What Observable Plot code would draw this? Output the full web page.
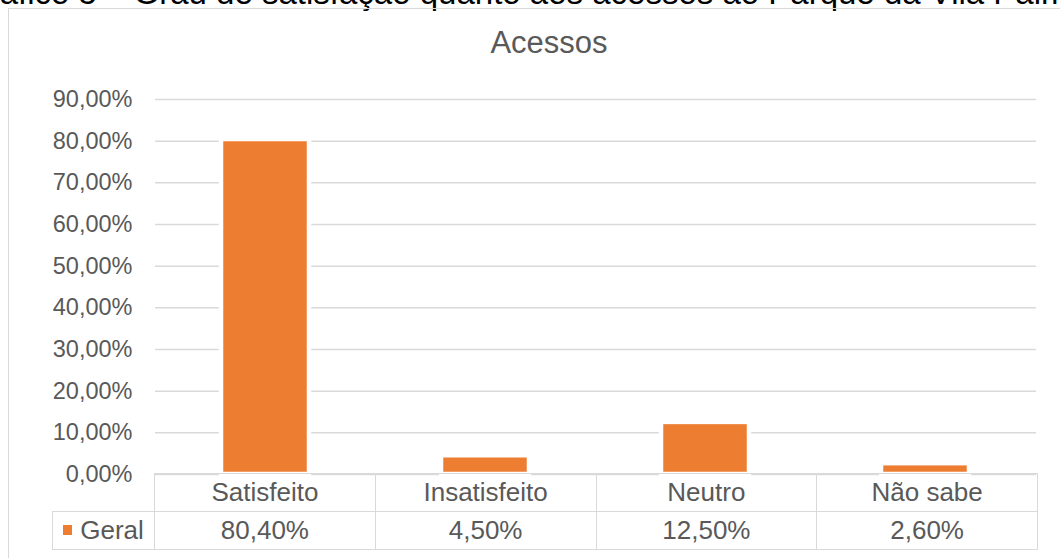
<!DOCTYPE html>
<html>
<head>
<meta charset="utf-8">
<script src="https://cdn.jsdelivr.net/npm/d3@7"></script>
<script src="https://cdn.jsdelivr.net/npm/@observablehq/plot@0.6"></script>
<style>
  html, body { margin: 0; padding: 0; background: #fff; }
  body { width: 1060px; height: 558px; position: relative; overflow: hidden; font-family: "Liberation Sans", Arial, sans-serif; }
  #caption { position: absolute; left: -37px; top: -24px; font-size: 33px; line-height: 33px; color: #000; white-space: nowrap; }
  #frame { position: absolute; left: 8px; top: 8px; width: 1200px; height: 700px; border: 1.5px solid #d9d9d9; box-sizing: border-box; }
  #title { position: absolute; left: 349px; width: 400px; top: 27px; text-align: center; font-size: 31px; line-height: 31px; color: #595959; }
  #chart { position: absolute; left: 0; top: 0; }
  #table { position: absolute; left: 52px; top: 473px; border-collapse: collapse; table-layout: fixed; width: 985px; font-size: 26px; color: #595959; }
  #table td { border: 1.5px solid #d9d9d9; height: 37px; padding: 0; text-align: center; vertical-align: middle; white-space: nowrap; }
  #table td.blank { border-top: none; border-left: none; }
  .swatch { display: inline-block; width: 9px; height: 10px; background: #ED7D31; margin-right: 8px; vertical-align: middle; position: relative; top: -2px; }
</style>
</head>
<body>
<div id="caption"></div>
<div id="frame"></div>
<div id="title"></div>
<div id="chart"></div>
<table id="table"></table>
<script>
const captionText = "Gráfico 5 – Grau de satisfação quanto aos acessos ao Parque da Vila Palmares";
const chartTitle = "Acessos";
const categories = ["Satisfeito", "Insatisfeito", "Neutro", "Não sabe"];
const values = [80.4, 4.5, 12.5, 2.6];
const seriesName = "Geral";
const yTicks = [0, 10, 20, 30, 40, 50, 60, 70, 80, 90];

const fmt = v => v.toFixed(2).replace(".", ",") + "%";
const data = categories.map((c, i) => ({category: c, value: values[i]}));

document.getElementById("caption").textContent = captionText;
document.getElementById("title").textContent = chartTitle;

const plot = Plot.plot({
  width: 1060,
  height: 490,
  marginTop: 99,
  marginBottom: 16,
  marginLeft: 155,
  marginRight: 24,
  style: {background: "transparent", fontFamily: "'Liberation Sans', Arial, sans-serif", color: "#595959"},
  x: {domain: categories, paddingInner: 0.599, paddingOuter: 0.2995, axis: null},
  y: {domain: [0, 90], axis: null},
  marks: [
    Plot.gridY(yTicks, {stroke: "#d9d9d9", strokeOpacity: 1, strokeWidth: 1.5}),
    Plot.barY(data, {x: "category", y: "value", fill: "#ED7D31", stroke: "white", strokeWidth: 4.5}),
    Plot.axisY(yTicks, {tickSize: 0, tickPadding: 23, tickFormat: fmt, fontSize: 23.5, label: null})
  ]
});
document.getElementById("chart").appendChild(plot);

const table = document.getElementById("table");
const colgroup = document.createElement("colgroup");
const c0 = document.createElement("col"); c0.style.width = "102px"; colgroup.appendChild(c0);
categories.forEach(() => { const c = document.createElement("col"); c.style.width = "220.75px"; colgroup.appendChild(c); });
table.appendChild(colgroup);
const r1 = document.createElement("tr");
const blank = document.createElement("td"); blank.className = "blank"; r1.appendChild(blank);
categories.forEach(c => { const td = document.createElement("td"); td.textContent = c; r1.appendChild(td); });
table.appendChild(r1);
const r2 = document.createElement("tr");
const lead = document.createElement("td");
lead.innerHTML = '<span class="swatch"></span>';
lead.appendChild(document.createTextNode(seriesName));
r2.appendChild(lead);
values.forEach(v => { const td = document.createElement("td"); td.textContent = fmt(v); r2.appendChild(td); });
table.appendChild(r2);
</script>
</body>
</html>
